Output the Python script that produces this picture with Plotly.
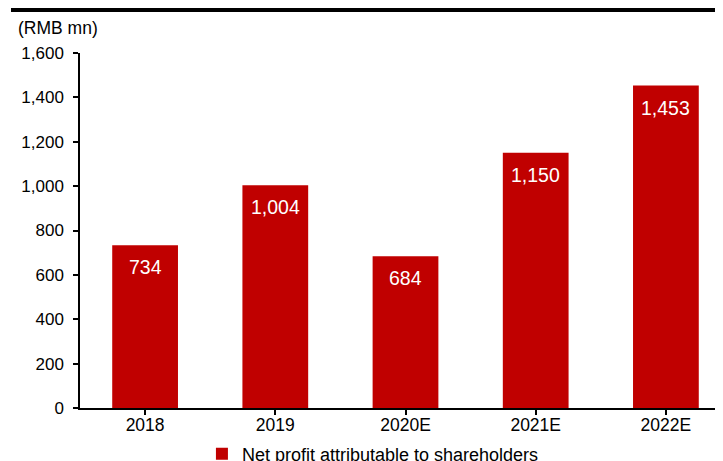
import plotly.graph_objects as go

categories = ["2018", "2019", "2020E", "2021E", "2022E"]
net_profit = [734, 1004, 684, 1150, 1453]
value_labels = ["734", "1,004", "684", "1,150", "1,453"]
y_ticks = [0, 200, 400, 600, 800, 1000, 1200, 1400, 1600]
y_tick_labels = ["0", "200", "400", "600", "800", "1,000", "1,200", "1,400", "1,600"]
series_name = "Net profit attributable to shareholders"
unit_label = "(RMB mn)"

FONT = "Liberation Sans, Arial, sans-serif"
RED = "#C00000"

x_idx = list(range(len(categories)))

PLOT_H = 355.0

fig = go.Figure()
fig.add_trace(go.Bar(
    x=x_idx,
    y=net_profit,
    marker=dict(color=RED, line=dict(width=0)),
    width=0.505,
    name=series_name,
    showlegend=True,
))

annotations = [
    dict(x=xi, y=v, xref="x", yref="y", text=t, showarrow=False,
         yshift=-22, xanchor="center", yanchor="middle",
         font=dict(family=FONT, size=19.5, color="white"))
    for xi, v, t in zip(x_idx, net_profit, value_labels)
]
annotations.append(
    dict(text=unit_label, xref="paper", yref="paper", x=-0.098, y=(400 - 20) / PLOT_H,
         xanchor="left", yanchor="middle", showarrow=False,
         font=dict(family=FONT, size=17.5))
)

fig.update_layout(
    width=723, height=461,
    margin=dict(l=72, r=0, t=45, b=61, pad=0, autoexpand=False),
    paper_bgcolor="white", plot_bgcolor="white",
    font=dict(family=FONT, size=17, color="black"),
    showlegend=True,
    legend=dict(orientation="h", x=0.1873, xanchor="left", y=-0.1296, yanchor="middle",
                font=dict(family=FONT, size=18), itemwidth=30, tracegroupgap=0,
                bgcolor="rgba(0,0,0,0)"),
    xaxis=dict(
        range=[-0.5, 4.5],
        tickmode="array", tickvals=x_idx, ticktext=categories,
        tickson="boundaries", ticks="outside", ticklen=5, tickcolor="black", tickwidth=1.5,
        ticklabelstandoff=-5,
        showline=True, linecolor="black", linewidth=1.5,
        showgrid=False, zeroline=False,
        tickfont=dict(family=FONT, size=17.5),
    ),
    yaxis=dict(
        range=[0, 1600],
        tickmode="array", tickvals=y_ticks, ticktext=y_tick_labels,
        ticks="outside", ticklen=5, tickcolor="black", tickwidth=1.5,
        ticklabelstandoff=6,
        showline=True, linecolor="black", linewidth=1.5,
        showgrid=False, zeroline=False,
        tickfont=dict(family=FONT, size=17),
    ),
    annotations=annotations,
    shapes=[
        dict(type="rect", xref="paper", yref="paper", x0=-0.106, x1=1.0,
             y0=(400 - 0.0) / PLOT_H, y1=(400 - 4.0) / PLOT_H,
             fillcolor="black", line=dict(width=0), layer="above"),
    ],
)

fig.write_html("out.html")
